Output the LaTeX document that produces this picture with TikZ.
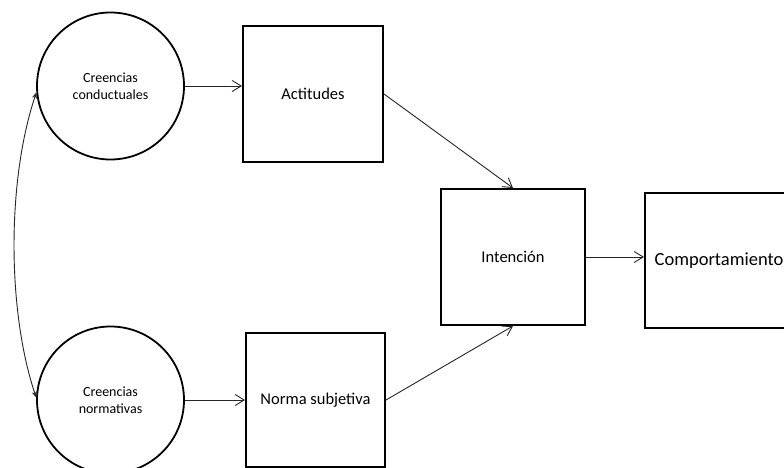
\documentclass[tikz,border=0pt]{standalone}
\usepackage{fontspec}
\setmainfont{Carlito}
\usetikzlibrary{arrows.meta}
\begin{document}
\begin{tikzpicture}[x=1pt,y=-1pt,
  circ/.style={draw,circle,line width=1.8pt,minimum size=147pt,inner sep=0pt,align=center,font=\fontsize{14}{17}\selectfont},
  bx/.style={draw,rectangle,line width=2pt,minimum width=140pt,minimum height=136pt,inner sep=0pt,font=\fontsize{16.5}{19}\selectfont},
  arr/.style={line width=0.9pt,black!85,-{Straight Barb[length=9pt,width=11pt,line width=0.9pt]}},
  dbl/.style={line width=0.9pt,black!85,{Stealth[length=6pt,width=5pt]}-{Stealth[length=6pt,width=5pt]}}]
\useasboundingbox (0,0) rectangle (784,468);
\fill[white] (0,0) rectangle (784,468);
\node[circ] (cb) at (110.5,86) {Creencias\\conductuales};
\node[circ] (cn) at (110.5,400) {Creencias\\normativas};
\node[bx] (act) at (313,94) {Actitudes};
\node[bx,minimum width=139pt,minimum height=134pt] (norm) at (315.5,400) {Norma subjetiva};
\node[bx,minimum width=144pt] (int) at (513,257) {Intención};
\node[bx,minimum width=148pt,minimum height=135pt,font=\fontsize{18.5}{21}\selectfont] (comp) at (719,260.5) {Comportamiento};
\draw[arr] (cb.east) -- (cb.east -| act.west);
\draw[arr] (cn.east) -- (cn.east -| norm.west);
\draw[arr] (act.east) -- (int.north);
\draw[arr] (norm.east) -- (int.south);
\draw[arr] (int.east) -- (int.east -| comp.west);
\draw[dbl] (cb.185) .. controls (7,180) and (7,310) .. (cn.178);
\end{tikzpicture}
\end{document}
